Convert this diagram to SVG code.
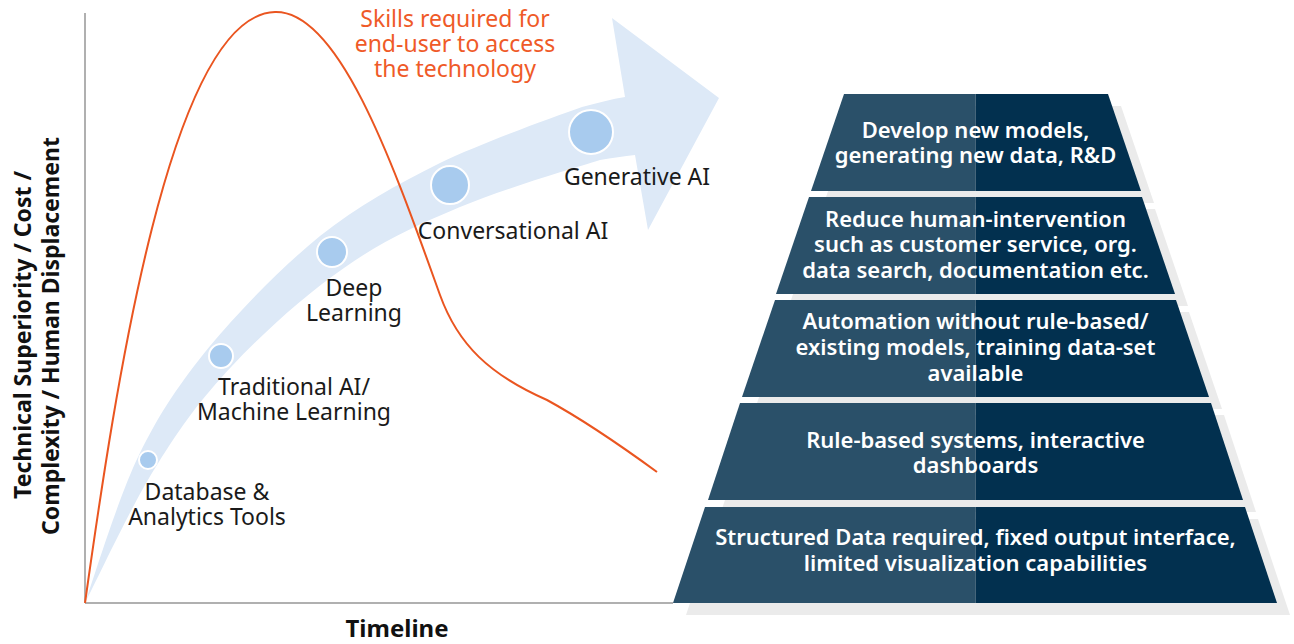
<svg xmlns="http://www.w3.org/2000/svg" width="1294" height="644" viewBox="0 0 1294 644">
  <style>
    .lbl { font-family: "Noto Sans", "Open Sans", sans-serif; font-size: 23px; fill: #1a1a1a; text-anchor: middle; }
    .axis-title { font-family: "Noto Sans", "Open Sans", sans-serif; font-size: 23px; font-weight: 700; fill: #111; text-anchor: middle; }
    .x-title { font-size: 24px; }
    .skill { font-family: "Noto Sans", "Open Sans", sans-serif; font-size: 23px; fill: #ef5a28; text-anchor: middle; }
    .tier-text { font-family: "Noto Sans", "Open Sans", sans-serif; font-size: 22px; font-weight: 600; fill: #ffffff; text-anchor: middle; }
    .dot { fill: #a8cbee; stroke: #ffffff; stroke-width: 2; }
    .tier-l { fill: #2a5069; }
    .tier-r { fill: #02304f; }
    .shadow { fill: #ebebeb; }
    .axis { stroke: #b0b0b0; stroke-width: 2; fill: none; }
  </style>

  <!-- progression arrow -->
  <g id="progress-arrow">
    <path fill="#dde9f7" d="M85,603 C94,578 118,498 139,455 C160,412 180,383 210,346 C240,310 282,267 320,236 C358,206 396,185 440,163 C484,142 551,118 582,107 C598,103 612,99 625,97 L612,18 L719,98 L648,230 L635,155 C624,156 612,158 600,160 C571,169 503,189 460,207 C417,225 382,241 344,268 C306,294 263,333 232,366 C201,399 181,426 157,465 C132,504 97,580 85,603 Z"/>
  </g>

  <!-- axes -->
  <g id="axes">
    <line class="axis" x1="85" y1="13" x2="85" y2="603"/>
    <line class="axis" x1="85" y1="603" x2="673" y2="603"/>
  </g>

  <!-- skills curve -->
  <g id="connectors">
    <path fill="none" stroke="#ea5520" stroke-width="2" d="M85,603 C115,390 170,15 275,12 C340,10 395,170 440,295 C458,345 490,375 547,400 C580,418 620,445 657,472"/>
  </g>

  <!-- milestones -->
  <g id="node-database">
    <circle class="dot" cx="148" cy="460" r="9"/>
    <text class="lbl" x="207" y="500">Database &amp;</text>
    <text class="lbl" x="207" y="525">Analytics Tools</text>
  </g>
  <g id="node-traditional">
    <circle class="dot" cx="221" cy="356" r="12"/>
    <text class="lbl" x="294" y="395">Traditional AI/</text>
    <text class="lbl" x="294" y="420">Machine Learning</text>
  </g>
  <g id="node-deep">
    <circle class="dot" cx="332" cy="252" r="15"/>
    <text class="lbl" x="354" y="296">Deep</text>
    <text class="lbl" x="354" y="321">Learning</text>
  </g>
  <g id="node-conversational">
    <circle class="dot" cx="450" cy="185" r="19"/>
    <text class="lbl" x="513" y="239">Conversational AI</text>
  </g>
  <g id="node-generative">
    <circle class="dot" cx="591" cy="132" r="22"/>
    <text class="lbl" x="637" y="185">Generative AI</text>
  </g>

  <g id="skills-label">
    <text class="skill" x="455" y="27">Skills required for</text>
    <text class="skill" x="455" y="52">end-user to access</text>
    <text class="skill" x="455" y="77">the technology</text>
  </g>

  <!-- axis titles -->
  <g id="y-title">
    <text class="axis-title" transform="translate(31,335) rotate(-90)">Technical Superiority / Cost /</text>
    <text class="axis-title" transform="translate(59,336) rotate(-90)">Complexity / Human Displacement</text>
  </g>
  <g id="x-title">
    <text class="axis-title x-title" x="397" y="637">Timeline</text>
  </g>

  <!-- pyramid shadows -->
  <g id="pyramid-shadows" transform="translate(13,12)">
    <polygon class="shadow" points="844,94 1108,94 1141,191 811,191"/>
    <polygon class="shadow" points="809,197 1142,197 1175,294 776,294"/>
    <polygon class="shadow" points="775,300 1176,300 1209,397 742,397"/>
    <polygon class="shadow" points="740,403 1211,403 1243,500 708,500"/>
    <polygon class="shadow" points="705,507 1245,507 1277,603 673,603"/>
  </g>

  <!-- pyramid tiers -->
  <g id="tier-1">
    <polygon class="tier-l" points="844,94 975.5,94 975.5,191 811,191"/>
    <polygon class="tier-r" points="975.5,94 1108,94 1141,191 975.5,191"/>
    <text class="tier-text" x="975.5" y="138">Develop new models,</text>
    <text class="tier-text" x="975.5" y="163">generating new data, R&amp;D</text>
  </g>
  <g id="tier-2">
    <polygon class="tier-l" points="809,197 975.5,197 975.5,294 776,294"/>
    <polygon class="tier-r" points="975.5,197 1142,197 1175,294 975.5,294"/>
    <text class="tier-text" x="975.5" y="227">Reduce human-intervention</text>
    <text class="tier-text" x="975.5" y="252">such as customer service, org.</text>
    <text class="tier-text" x="975.5" y="278">data search, documentation etc.</text>
  </g>
  <g id="tier-3">
    <polygon class="tier-l" points="775,300 975.5,300 975.5,397 742,397"/>
    <polygon class="tier-r" points="975.5,300 1176,300 1209,397 975.5,397"/>
    <text class="tier-text" x="975.5" y="329">Automation without rule-based/</text>
    <text class="tier-text" x="975.5" y="355">existing models, training data-set</text>
    <text class="tier-text" x="975.5" y="381">available</text>
  </g>
  <g id="tier-4">
    <polygon class="tier-l" points="740,403 975.5,403 975.5,500 708,500"/>
    <polygon class="tier-r" points="975.5,403 1211,403 1243,500 975.5,500"/>
    <text class="tier-text" x="975.5" y="448">Rule-based systems, interactive</text>
    <text class="tier-text" x="975.5" y="473">dashboards</text>
  </g>
  <g id="tier-5">
    <polygon class="tier-l" points="705,507 975.5,507 975.5,603 673,603"/>
    <polygon class="tier-r" points="975.5,507 1245,507 1277,603 975.5,603"/>
    <text class="tier-text" x="975.5" y="545">Structured Data required, fixed output interface,</text>
    <text class="tier-text" x="975.5" y="571">limited visualization capabilities</text>
  </g>
</svg>
